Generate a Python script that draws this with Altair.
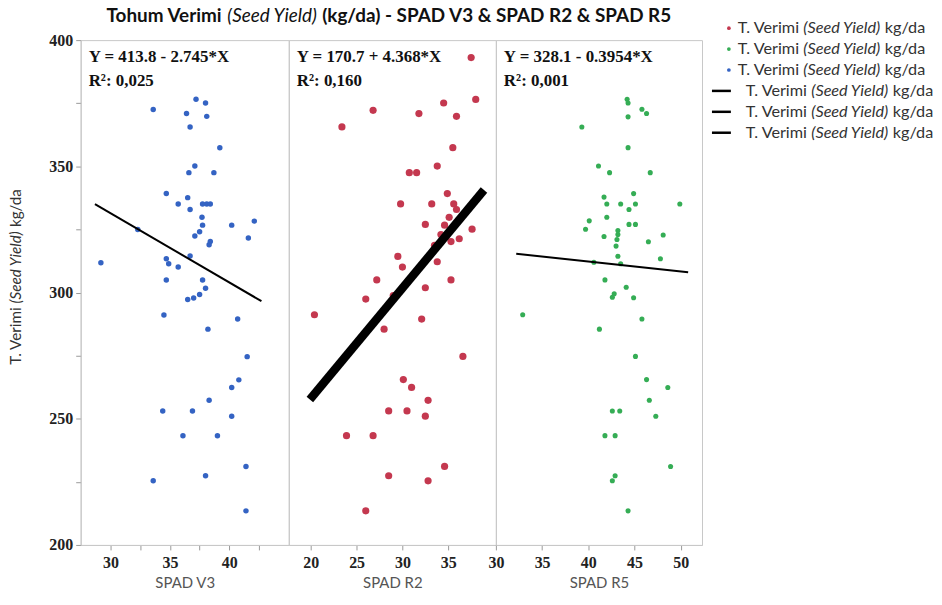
import os
import glob
import struct
import pandas as pd
import altair as alt

# ---------------- values ----------------
v3_x = [33.6, 37.2, 38.0, 36.4, 38.1, 36.7, 39.2, 37.1, 36.6, 38.7, 34.7, 36.5, 35.7, 36.7,
        37.75, 38.1, 38.4, 37.7, 37.75, 40.2, 42.1, 37.5, 37.1, 38.4, 38.3, 41.6, 32.3, 29.2,
        34.7, 34.9, 35.7, 36.7, 34.7, 37.75, 38.0, 37.5, 37.0, 36.5, 34.5, 40.7, 38.2, 41.5,
        40.8, 40.2, 38.3, 34.4, 36.9, 40.2, 36.1, 39.0, 41.4, 33.6, 38.0, 41.4]
v3_y = [372.5, 376.6, 375.1, 370.9, 369.8, 365.6, 357.4, 350.1, 347.5, 347.5, 339.2, 337.6,
        335.1, 332.9, 335.1, 335.1, 335.1, 329.8, 326.7, 326.7, 328.3, 324.1, 322.4, 320.2,
        318.9, 321.6, 325.0, 311.8, 313.4, 311.4, 310.1, 314.5, 305.0, 305.0, 301.7, 299.2,
        297.8, 297.2, 291.1, 289.5, 285.5, 274.6, 265.4, 262.4, 257.3, 253.1, 253.1, 251.0,
        243.3, 243.3, 231.1, 225.4, 227.4, 213.5]

r2_x = [37.5, 38.0, 34.5, 26.8, 31.8, 35.9, 23.4, 35.5, 33.8, 30.75, 31.55, 34.9, 29.8, 33.2,
        35.6, 35.9, 35.1, 32.5, 34.6, 37.6, 34.2, 36.2, 35.3, 33.5, 29.5, 33.8, 30.0, 27.2,
        35.3, 32.5, 29.0, 26.0, 20.4, 32.1, 28.0, 36.6, 30.1, 31.0, 32.8, 28.5, 30.5, 32.5,
        23.9, 26.8, 34.6, 28.5, 32.8, 26.0]
r2_y = [393.1, 376.5, 375.1, 372.2, 370.9, 369.8, 365.6, 357.4, 350.1, 347.5, 347.5, 339.2,
        335.1, 335.1, 335.1, 332.9, 329.8, 327.0, 326.7, 325.1, 323.0, 321.3, 320.2, 318.7,
        314.3, 312.2, 310.1, 305.0, 305.0, 301.9, 298.8, 297.4, 291.2, 289.5, 285.5, 274.7,
        265.5, 262.4, 257.3, 253.1, 253.1, 251.0, 243.3, 243.3, 231.1, 227.4, 225.4, 213.5]

r5_x = [44.2, 44.3, 45.8, 46.3, 44.3, 39.3, 44.3, 41.1, 42.3, 46.7, 44.9, 41.7, 42.0, 43.5,
        45.1, 49.9, 44.4, 42.0, 40.1, 39.7, 44.4, 45.1, 43.2, 43.2, 41.7, 48.1, 46.5, 43.1,
        43.0, 43.2, 47.8, 40.6, 43.5, 41.8, 44.1, 42.8, 42.6, 44.9, 32.9, 45.8, 41.2, 45.1,
        46.3, 48.6, 46.6, 42.6, 43.4, 47.3, 41.8, 42.9, 48.9, 42.9, 42.6, 44.3]
r5_y = [376.6, 375.1, 372.6, 370.9, 369.6, 365.6, 357.4, 350.1, 347.5, 347.5, 339.2, 337.8,
        335.1, 335.1, 335.1, 335.1, 332.9, 329.8, 328.4, 325.1, 327.0, 327.0, 324.6, 323.0,
        322.2, 322.8, 320.1, 321.0, 318.4, 314.4, 313.4, 312.0, 311.4, 305.0, 302.1, 299.5,
        298.1, 297.9, 291.2, 289.5, 285.5, 274.7, 265.5, 262.4, 257.3, 253.1, 253.1, 251.0,
        243.3, 243.3, 231.1, 227.4, 225.4, 213.5]

fit_intercept = [413.8, 170.7, 328.1]
fit_slope = [-2.745, 4.368, -0.3954]
fit_x_start = [28.7, 19.9, 32.2]
fit_x_end = [42.7, 38.9, 50.8]

equations = ["Y = 413.8 - 2.745*X", "Y = 170.7 + 4.368*X", "Y = 328.1 - 0.3954*X"]
r2_texts = ["R²: 0,025", "R²: 0,160", "R²: 0,001"]
x_titles = ["SPAD V3", "SPAD R2", "SPAD R5"]
x_domains = [[27.5, 45.0], [17.6, 40.2], [30.0, 52.3]]
x_ticks = [[30, 32.5, 35, 37.5, 40, 42.5],
           [20, 22.5, 25, 27.5, 30, 32.5, 35, 37.5],
           [30, 32.5, 35, 37.5, 40, 42.5, 45, 47.5, 50]]
y_domain = [200, 400]
y_ticks = [200, 225, 250, 275, 300, 325, 350, 375, 400]

title_pieces = [("Tohum Verimi", "bold"), ("(Seed Yield)", "italic"),
                ("(kg/da) - SPAD V3 & SPAD R2 & SPAD R5", "bold")]
series_pieces = [("T. Verimi", "normal"), ("(Seed Yield)", "italic"), ("kg/da", "normal")]

# ---------------- styling ----------------
dot_colors = ["#3463c3", "#c4384f", "#35ad55"]
dot_sizes = [30, 52, 26]
fit_widths = [2, 8.5, 2]
legend_dot_colors = ["#c4384f", "#35ad55", "#3463c3"]
W = [209, 208, 207]
H = 507
FRAME = "#c8c8c8"

# ---------------- font measuring (for mixed italic / bold runs) ----------------
def _load_ttf(path):
    with open(path, "rb") as f:
        data = f.read()
    n = struct.unpack(">H", data[4:6])[0]
    tabs = {}
    for i in range(n):
        rec = data[12 + 16 * i: 28 + 16 * i]
        tag = rec[:4].decode("latin-1")
        _, off, ln = struct.unpack(">III", rec[4:16])
        tabs[tag] = off
    upem = struct.unpack(">H", data[tabs["head"] + 18: tabs["head"] + 20])[0]
    nhm = struct.unpack(">H", data[tabs["hhea"] + 34: tabs["hhea"] + 36])[0]
    hm = tabs["hmtx"]
    adv = [struct.unpack(">H", data[hm + 4 * i: hm + 4 * i + 2])[0] for i in range(nhm)]
    cm = tabs["cmap"]
    nsub = struct.unpack(">H", data[cm + 2: cm + 4])[0]
    sub = None
    for i in range(nsub):
        pid, eid, off = struct.unpack(">HHI", data[cm + 4 + 8 * i: cm + 12 + 8 * i])
        fmt = struct.unpack(">H", data[cm + off: cm + off + 2])[0]
        if fmt == 4 and pid in (0, 3):
            sub = cm + off
            break
    seg2 = struct.unpack(">H", data[sub + 6: sub + 8])[0]
    seg = seg2 // 2
    ends = struct.unpack(">%dH" % seg, data[sub + 14: sub + 14 + seg2])
    starts = struct.unpack(">%dH" % seg, data[sub + 16 + seg2: sub + 16 + 2 * seg2])
    deltas = struct.unpack(">%dh" % seg, data[sub + 16 + 2 * seg2: sub + 16 + 3 * seg2])
    rpos = sub + 16 + 3 * seg2
    roffs = struct.unpack(">%dH" % seg, data[rpos: rpos + seg2])

    def glyph(code):
        for k in range(seg):
            if ends[k] >= code:
                if starts[k] > code:
                    return 0
                if roffs[k] == 0:
                    return (code + deltas[k]) & 0xFFFF
                addr = rpos + 2 * k + roffs[k] + 2 * (code - starts[k])
                g = struct.unpack(">H", data[addr: addr + 2])[0]
                return (g + deltas[k]) & 0xFFFF if g else 0
        return 0

    def width(s):
        tot = 0
        for ch in s:
            g = glyph(ord(ch))
            tot += adv[g] if g < nhm else adv[-1]
        return tot / upem
    return width


def _find(name):
    for d in ["/usr/share/fonts", "/usr/local/share/fonts",
              os.path.expanduser("~/.fonts"), os.path.expanduser("~/.local/share/fonts")]:
        hits = glob.glob(os.path.join(d, "**", name), recursive=True)
        if hits:
            return hits[0]
    return None


_fallback = {"normal": 0.47, "bold": 0.5, "italic": 0.45}
MEASURE = {}
for st, fname in [("normal", "Lato-Regular.ttf"), ("bold", "Lato-Bold.ttf"), ("italic", "Lato-Italic.ttf")]:
    try:
        p = _find(fname)
        MEASURE[st] = _load_ttf(p) if p else None
    except Exception:
        MEASURE[st] = None


def em_width(style, s):
    f = MEASURE.get(style)
    if f is not None:
        return f(s)
    return sum(0.22 if c == " " else _fallback[style] for c in s)


def layout_run(pieces):
    """offsets (in em) of each piece of a run of text, and the total length in em."""
    out, pos = [], 0.0
    for i, (t, st) in enumerate(pieces):
        if i > 0:
            pos += em_width(pieces[i - 1][1], " ")
            if st == "italic":
                pos -= 0.18
        out.append((pos, t, st))
        pos += em_width(st, t)
    return out, pos


ONE = pd.DataFrame({"k": [0]})


def text_layer(x, y, s, style="normal", size=14, color="#222", font="Lato",
               align="left", angle=None, weight=None):
    kw = dict(align=align, baseline="middle", font=font, fontSize=size, color=color)
    if style == "bold":
        kw["fontWeight"] = "bold"
    if style == "italic":
        kw["fontStyle"] = "italic"
    if weight:
        kw["fontWeight"] = weight
    if angle is not None:
        kw["angle"] = angle
    return alt.Chart(ONE).mark_text(**kw).encode(
        x=alt.value(x), y=alt.value(y), text=alt.value(s))


def run_layers(pieces, x0, y0, target_len, color, horizontal=True, center=False):
    offs, tot = layout_run(pieces)
    size = max(11.0, min(22.0, target_len / tot))
    start = x0 - tot * size / 2 if center else x0
    layers = []
    for off, t, st in offs:
        if horizontal:
            layers.append(text_layer(start + off * size, y0, t, st, size, color))
        else:
            layers.append(text_layer(x0, y0 - off * size, t, st, size, color, angle=270))
    return layers


# ---------------- panels ----------------
point_sets = [(v3_x, v3_y), (r2_x, r2_y), (r5_x, r5_y)]
panels = []
for i in range(3):
    xs, ys = point_sets[i]
    df = pd.DataFrame({"x": xs, "y": ys})
    fx = [fit_x_start[i], fit_x_end[i]]
    fdf = pd.DataFrame({"x": fx, "y": [fit_intercept[i] + fit_slope[i] * v for v in fx]})

    xscale = alt.Scale(domain=x_domains[i], nice=False, zero=False)
    yscale = alt.Scale(domain=y_domain, nice=False, zero=False)
    xaxis = alt.Axis(values=x_ticks[i], labelExpr="datum.value % 5 == 0 ? datum.label : ''",
                     grid=False, tickSize=5, tickColor="#999", domainColor=FRAME,
                     labelFont="Liberation Serif", labelFontWeight="bold", labelFontSize=16,
                     labelColor="#222", labelPadding=5, labelFlush=False, labelOverlap=False,
                     title=x_titles[i], titleFont="Lato", titleFontWeight="normal",
                     titleFontSize=15, titleColor="#555", titlePadding=5)
    if i == 0:
        yaxis = alt.Axis(values=y_ticks, labelExpr="datum.value % 50 == 0 ? datum.label : ''",
                         grid=False, tickSize=5, tickColor="#999", domainColor=FRAME,
                         labelFont="Liberation Serif", labelFontWeight="bold", labelFontSize=16,
                         labelColor="#222", labelPadding=3, labelFlush=False, labelOverlap=False,
                         title=None)
    else:
        yaxis = None

    pts = alt.Chart(df).mark_circle(size=dot_sizes[i], color=dot_colors[i], opacity=1).encode(
        x=alt.X("x:Q", scale=xscale, axis=xaxis),
        y=alt.Y("y:Q", scale=yscale, axis=yaxis))
    fit = alt.Chart(fdf).mark_line(color="black", strokeWidth=fit_widths[i], strokeCap="butt").encode(
        x="x:Q", y="y:Q")
    layers = [pts, fit,
              text_layer(8, 17, equations[i], size=17, color="#111", font="Liberation Serif", weight="bold"),
              text_layer(8, 41, r2_texts[i], size=17, color="#111", font="Liberation Serif", weight="bold")]

    if i == 0:
        # chart title, centred over the three panels
        layers += run_layers(title_pieces, sum(W) / 2, -24, 572, "#111", center=True)
        # y axis title, read bottom to top
        layers += run_layers(series_pieces, -65, 326, 177, "#333", horizontal=False)
    if i == 2:
        # hand-built legend: three dots then three fit lines
        for r in range(6):
            yy = -12 + 21 * r
            if r < 3:
                layers.append(alt.Chart(ONE).mark_circle(size=14, color=legend_dot_colors[r], opacity=1)
                              .encode(x=alt.value(234), y=alt.value(yy)))
                layers += run_layers(series_pieces, 243, yy, 189, "#333")
            else:
                layers.append(alt.Chart(ONE).mark_rule(color="black", strokeWidth=2.5)
                              .encode(x=alt.value(217), x2=alt.value(236), y=alt.value(yy)))
                layers += run_layers(series_pieces, 251, yy, 189, "#333")

    panels.append(alt.layer(*layers).properties(width=W[i], height=H))

chart = alt.hconcat(*panels, spacing=0, bounds="flush").properties(
    padding={"left": 0, "right": 0, "top": -3, "bottom": 0}, background="white"
).configure_view(stroke=FRAME, strokeWidth=1)

chart.save("out.html", embed_options={"renderer": "svg", "actions": False})
